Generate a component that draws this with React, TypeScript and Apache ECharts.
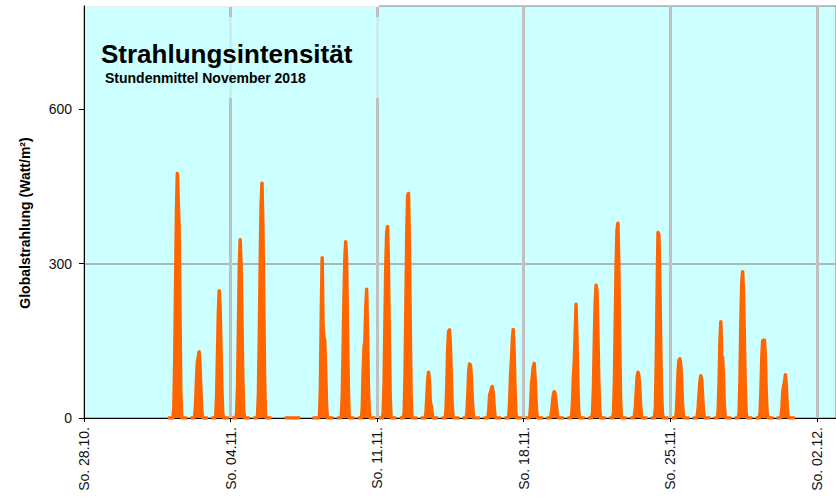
import React, { useEffect, useRef } from 'react';
import * as echarts from 'echarts';

// ---------- data ----------
const weekLabels = ['So. 28.10.', 'So. 04.11.', 'So. 11.11.', 'So. 18.11.', 'So. 25.11.', 'So. 02.12.'];
const weekTickHours = [0, 168, 336, 504, 672, 840];
const yTickValues = [0, 300, 600];
const FIRST_DAY_HOUR = 96; // 01.11. 00:00, hours after So. 28.10. 00:00
const _ = null;

// hourly means (W/m²), index = hour of day 0..23, null = no data
const nov01 = [0, 0, 0, 0, 0, 0, 0, 20, 110, 260, 400, 475, 420, 371, 200, 50, 0, 0, 0, 0, 0, 0, 0, _];
const nov02 = [_, _, 0, 0, 0, 0, 0, 5, 30, 75, 109, 118, 128, 100, 55, 15, 0, 0, 0, 0, 0, 0, 0, _];
const nov03 = [_, _, 0, 0, 0, 0, 0, 5, 40, 120, 205, 247, 215, 140, 60, 10, 0, 0, 0, 0, 0, 0, 0, _];
const nov04 = [_, _, 0, 0, 0, 0, 0, 10, 60, 170, 290, 346, 300, 190, 80, 15, 0, 0, 0, 0, 0, 0, 0, _];
const nov05 = [_, _, 0, 0, 0, 0, 0, 5, 50, 160, 300, 410, 456, 380, 230, 80, 5, 0, 0, 0, 0, 0, 0, 0];
const nov06 = [_, _, _, _, _, _, _, _, _, _, _, _, _, _, 0, 0, 0, 0, 0, 0, 0, 0, 0, 0];
const nov07 = [0, 0, 0, 0, 0, 0, 0, 0, 0, _, _, _, _, _, _, _, _, _, _, _, _, _, 0, 0];
const nov08 = [0, 0, 0, 0, 0, 0, 5, 60, 200, 311, 180, 157, 150, 90, 25, 0, 0, 0, 0, 0, 0, 0, 0, _];
const nov09 = [_, _, 0, 0, 0, 0, 0, 5, 40, 130, 230, 310, 342, 309, 180, 60, 0, 0, 0, 0, 0, 0, 0, _];
const nov10 = [_, _, 0, 0, 0, 0, 0, 20, 90, 138, 150, 215, 250, 170, 60, 10, 0, 0, 0, 0, 0, 0, 0, _];
const nov11 = [_, _, 0, 0, 0, 0, 0, 10, 70, 190, 300, 360, 372, 290, 150, 40, 0, 0, 0, 0, 0, 0, 0, _];
const nov12 = [_, _, 0, 0, 0, 0, 0, 10, 80, 220, 360, 432, 436, 340, 170, 40, 0, 0, 0, 0, 0, 0, 0, _];
const nov13 = [_, _, 0, 0, 0, 0, 0, 0, 10, 40, 75, 89, 70, 30, 25, 10, 0, 0, 0, 0, 0, 0, 0, _];
const nov14 = [_, _, 0, 0, 0, 0, 0, 15, 70, 140, 168, 171, 140, 80, 25, 3, 0, 0, 0, 0, 0, 0, 0, _];
const nov15 = [_, _, 0, 0, 0, 0, 0, 10, 45, 90, 105, 102, 80, 40, 10, 0, 0, 0, 0, 0, 0, 0, 0, _];
const nov16 = [_, _, 0, 0, 0, 0, 0, 0, 15, 46, 50, 58, 61, 50, 25, 5, 0, 0, 0, 0, 0, 0, 0, _];
const nov17 = [_, _, 0, 0, 0, 0, 0, 5, 35, 85, 113, 150, 172, 130, 60, 10, 0, 0, 0, 0, 0, 0, 0, _];
const nov18 = [_, _, 0, 0, 0, 0, 0, 3, 25, 65, 83, 100, 106, 80, 40, 8, 0, 0, 0, 0, 0, 0, 0, _];
const nov19 = [_, _, 0, 0, 0, 0, 0, 3, 12, 30, 45, 51, 48, 35, 15, 3, 0, 0, 0, 0, 0, 0, 0, _];
const nov20 = [_, _, 0, 0, 0, 0, 0, 5, 30, 80, 109, 160, 221, 160, 70, 15, 0, 0, 0, 0, 0, 0, 0, _];
const nov21 = [_, _, 0, 0, 0, 0, 0, 10, 60, 150, 225, 258, 245, 170, 80, 20, 0, 0, 0, 0, 0, 0, 0, _];
const nov22 = [_, _, 0, 0, 0, 0, 0, 10, 70, 190, 300, 365, 378, 300, 160, 40, 0, 0, 0, 0, 0, 0, 0, _];
const nov23 = [_, _, 0, 0, 0, 0, 0, 5, 20, 50, 78, 89, 82, 60, 25, 5, 0, 0, 0, 0, 0, 0, 0, _];
const nov24 = [_, _, 0, 0, 0, 0, 0, 20, 110, 250, 360, 355, 270, 150, 55, 10, 0, 0, 0, 0, 0, 0, 0, _];
const nov25 = [_, _, 0, 0, 0, 0, 0, 10, 45, 90, 112, 115, 105, 75, 30, 5, 0, 0, 0, 0, 0, 0, 0, _];
const nov26 = [_, _, 0, 0, 0, 0, 0, 5, 20, 45, 70, 82, 75, 45, 15, 3, 0, 0, 0, 0, 0, 0, 0, _];
const nov27 = [_, _, 0, 0, 0, 0, 0, 15, 70, 150, 187, 120, 118, 80, 25, 3, 0, 0, 0, 0, 0, 0, 0, _];
const nov28 = [_, _, 0, 0, 0, 0, 0, 10, 80, 190, 265, 284, 240, 150, 60, 10, 0, 0, 0, 0, 0, 0, 0, _];
const nov29 = [_, _, 0, 0, 0, 0, 0, 10, 55, 120, 150, 151, 151, 120, 50, 10, 0, 0, 0, 0, 0, 0, 0, _];
const nov30 = [_, _, 0, 0, 0, 0, 0, 3, 20, 50, 62, 70, 84, 65, 25, 3, 0, 0, 0, 0, 0, 0, 0, 0];

const november = [
  nov01, nov02, nov03, nov04, nov05, nov06, nov07, nov08, nov09, nov10,
  nov11, nov12, nov13, nov14, nov15, nov16, nov17, nov18, nov19, nov20,
  nov21, nov22, nov23, nov24, nov25, nov26, nov27, nov28, nov29, nov30,
];

const titleText = 'Strahlungsintensität';
const subtitleText = 'Stundenmittel November 2018';
const yAxisName = 'Globalstrahlung (Watt/m²)';

const FONT = '"Liberation Sans", Arial, Helvetica, sans-serif';

export default function App() {
  const ref = useRef<HTMLDivElement>(null);

  useEffect(() => {
    if (!ref.current) return;
    const chart = echarts.init(ref.current, undefined, { renderer: 'svg' });

    const seriesData: any[] = [];
    november.forEach((day, d) => {
      day.forEach((v, h) => {
        seriesData.push([FIRST_DAY_HOUR + d * 24 + h, v === null ? '-' : v]);
      });
    });

    chart.setOption({
      animation: false,
      textStyle: { fontFamily: FONT },
      grid: {
        left: 84,
        right: 0,
        top: 6,
        bottom: 79,
        show: true,
        backgroundColor: '#ccffff',
        borderColor: '#7f7f7f',
        borderWidth: 1,
      },
      xAxis: {
        type: 'value',
        min: 0,
        max: 862,
        interval: 168,
        axisLine: { show: true, onZero: false, lineStyle: { color: '#000', width: 1 } },
        axisTick: { show: true, length: 4, customValues: weekTickHours, lineStyle: { color: '#000' } },
        axisLabel: {
          rotate: 90,
          margin: 9,
          fontSize: 14,
          color: '#111',
          fontFamily: FONT,
          customValues: weekTickHours,
          formatter: (v: number) => weekLabels[Math.round(v / 168)] ?? '',
        },
        splitLine: { show: false },
      },
      yAxis: {
        type: 'value',
        min: 0,
        max: 800,
        interval: 300,
        axisLine: { show: true, lineStyle: { color: '#000', width: 1 } },
        axisTick: { show: true, length: 5, customValues: yTickValues, lineStyle: { color: '#000' } },
        axisLabel: {
          margin: 12,
          fontSize: 14,
          color: '#111',
          fontFamily: FONT,
          customValues: yTickValues,
          formatter: (v: number) => String(v),
        },
        splitLine: {
          show: true,
          showMinLine: false,
          showMaxLine: false,
          lineStyle: { color: '#a0a0a0', width: 1.5 },
        },
      },
      series: [
        {
          type: 'line',
          data: seriesData,
          showSymbol: false,
          symbol: 'none',
          connectNulls: false,
          lineStyle: { color: '#ff6600', width: 3.5, join: 'round' },
          areaStyle: { color: '#ff6600', opacity: 1 },
          itemStyle: { color: '#ff6600' },
          z: 3,
          markLine: {
            silent: true,
            symbol: ['none', 'none'],
            label: { show: false },
            lineStyle: { color: '#c0c0c0', width: 3, type: 'solid' },
            data: weekTickHours.slice(1).map((h) => ({ xAxis: h })),
          },
        },
      ],
      graphic: [
        {
          type: 'rect',
          z: 50,
          shape: { x: 85, y: 5, width: 294, height: 1.7 },
          style: { fill: '#ffffff' },
        },
        {
          type: 'rect',
          z: 50,
          shape: { x: 85, y: 17, width: 294, height: 81 },
          style: { fill: 'rgba(204,255,255,0.75)' },
        },
        {
          type: 'text',
          z: 60,
          x: 101,
          y: 54,
          style: {
            text: titleText,
            font: `bold 26px ${FONT}`,
            fill: '#000',
            textAlign: 'left',
            textVerticalAlign: 'middle',
          },
        },
        {
          type: 'text',
          z: 60,
          x: 105,
          y: 77.5,
          style: {
            text: subtitleText,
            font: `bold 14px ${FONT}`,
            fill: '#000',
            textAlign: 'left',
            textVerticalAlign: 'middle',
          },
        },
        {
          type: 'text',
          z: 60,
          x: 25,
          y: 223,
          rotation: Math.PI / 2,
          style: {
            text: yAxisName,
            font: `bold 14px ${FONT}`,
            fill: '#000',
            textAlign: 'center',
            textVerticalAlign: 'middle',
          },
        },
      ],
    });

    return () => chart.dispose();
  }, []);

  return (
    <div
      ref={ref}
      style={{ position: 'fixed', left: 0, top: 0, width: 836, height: 497, background: '#ffffff' }}
    />
  );
}
